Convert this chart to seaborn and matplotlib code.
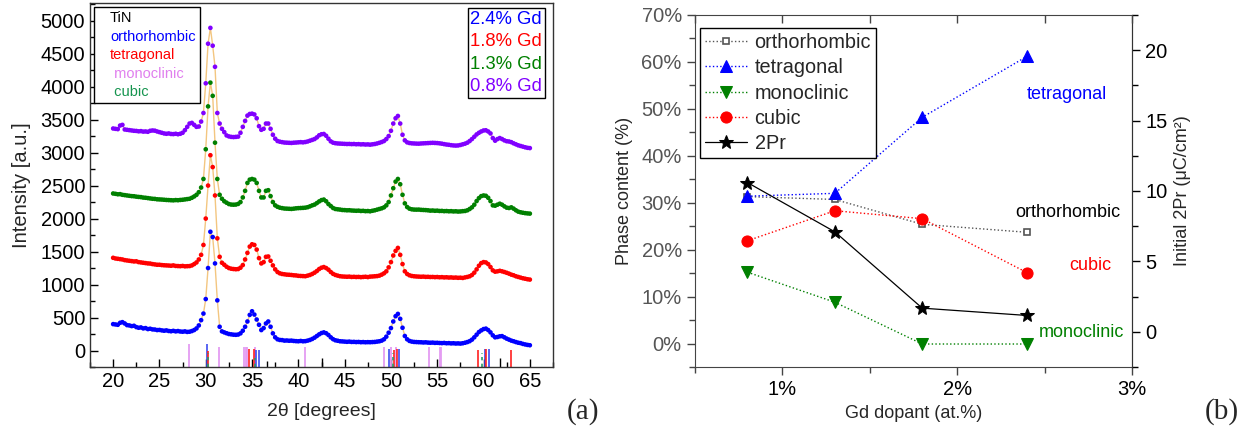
from matplotlib import pyplot as plt
from matplotlib.ticker import MultipleLocator, PercentFormatter
import pandas as pd
import seaborn as sns
import numpy as np

# ---------------- (a) XRD patterns ----------------
two_theta = np.arange(20, 65.001, 0.25)

xrd_24 = [400, 395, 390, 420, 430, 410, 385, 380, 370, 375, 355, 345, 350, 335, 340, 325, 330, 320, 318, 310,
          312, 305, 300, 305, 296, 292, 298, 290, 295, 288, 285, 290, 282, 285, 295, 310, 335, 380, 460, 560,
          780, 1250, 1800, 1720, 1320, 760, 360, 290, 275, 262, 250, 245, 240, 238, 242, 260, 300, 360, 440, 540,
          595, 545, 470, 390, 310, 340, 410, 440, 360, 260, 200, 170, 160, 158, 150, 152, 148, 150, 145, 142,
          140, 145, 140, 142, 150, 160, 175, 195, 220, 245, 265, 275, 262, 235, 200, 172, 155, 148, 140, 138,
          135, 132, 135, 130, 131, 128, 130, 126, 128, 125, 127, 126, 128, 130, 135, 140, 150, 170, 210, 270,
          340, 440, 520, 555, 480, 345, 220, 170, 145, 135, 130, 128, 126, 125, 122, 124, 120, 118, 120, 116,
          117, 114, 112, 115, 110, 112, 108, 110, 106, 108, 105, 110, 118, 128, 142, 165, 200, 240, 280, 305,
          325, 332, 310, 275, 230, 200, 205, 215, 218, 200, 180, 165, 150, 140, 128, 118, 112, 100, 92, 85,
          80]
xrd_18 = [1405, 1395, 1390, 1385, 1380, 1370, 1365, 1360, 1355, 1350, 1352, 1340, 1335, 1330, 1325, 1320, 1318, 1310, 1305, 1300,
          1300, 1295, 1292, 1290, 1288, 1285, 1290, 1282, 1280, 1278, 1282, 1276, 1278, 1280, 1290, 1310, 1335, 1380, 1450, 1600,
          2000, 2500, 2960, 2780, 2350, 1700, 1420, 1330, 1300, 1270, 1250, 1240, 1235, 1232, 1235, 1255, 1295, 1380, 1480, 1575,
          1610, 1600, 1530, 1400, 1320, 1340, 1420, 1425, 1360, 1290, 1230, 1190, 1170, 1160, 1155, 1150, 1148, 1145, 1140, 1138,
          1132, 1130, 1128, 1126, 1135, 1145, 1160, 1180, 1205, 1235, 1255, 1265, 1250, 1225, 1190, 1162, 1145, 1135, 1126, 1122,
          1120, 1118, 1120, 1115, 1117, 1114, 1116, 1112, 1115, 1118, 1113, 1120, 1122, 1125, 1128, 1135, 1150, 1170, 1200, 1260,
          1340, 1440, 1510, 1555, 1450, 1310, 1200, 1160, 1140, 1130, 1125, 1122, 1120, 1118, 1120, 1116, 1117, 1114, 1115, 1112,
          1114, 1110, 1112, 1108, 1110, 1106, 1108, 1104, 1106, 1102, 1104, 1100, 1108, 1115, 1125, 1145, 1180, 1230, 1285, 1325,
          1340, 1335, 1310, 1265, 1215, 1195, 1200, 1208, 1200, 1190, 1178, 1165, 1150, 1140, 1125, 1115, 1105, 1095, 1088, 1080,
          1075]
xrd_13 = [2380, 2375, 2368, 2370, 2360, 2355, 2350, 2345, 2340, 2338, 2332, 2328, 2325, 2318, 2315, 2310, 2305, 2300, 2298, 2292,
          2290, 2288, 2285, 2282, 2280, 2278, 2276, 2280, 2278, 2282, 2285, 2290, 2295, 2300, 2315, 2335, 2360, 2400, 2470, 2600,
          3050, 3700, 4060, 3860, 3150, 2600, 2360, 2300, 2262, 2240, 2220, 2212, 2210, 2212, 2222, 2250, 2320, 2420, 2540, 2590,
          2600, 2590, 2540, 2420, 2320, 2320, 2420, 2430, 2340, 2250, 2200, 2178, 2165, 2158, 2152, 2150, 2148, 2146, 2150, 2155,
          2158, 2160, 2162, 2165, 2172, 2185, 2200, 2212, 2235, 2260, 2280, 2288, 2262, 2220, 2190, 2160, 2145, 2140, 2136, 2130,
          2128, 2125, 2126, 2122, 2120, 2118, 2120, 2115, 2117, 2112, 2114, 2110, 2118, 2125, 2135, 2145, 2155, 2170, 2200, 2250,
          2350, 2460, 2560, 2600, 2520, 2360, 2230, 2175, 2150, 2140, 2136, 2135, 2136, 2132, 2130, 2128, 2125, 2120, 2122, 2118,
          2120, 2115, 2116, 2112, 2114, 2110, 2112, 2108, 2110, 2106, 2108, 2112, 2115, 2125, 2145, 2170, 2210, 2265, 2310, 2340,
          2350, 2345, 2315, 2265, 2200, 2195, 2210, 2225, 2210, 2185, 2165, 2160, 2170, 2150, 2125, 2105, 2095, 2088, 2082, 2078,
          2075]
xrd_08 = [3365, 3360, 3355, 3410, 3420, 3350, 3345, 3340, 3335, 3330, 3328, 3322, 3325, 3318, 3320, 3315, 3330, 3335, 3332, 3320,
          3310, 3300, 3290, 3285, 3290, 3282, 3280, 3285, 3278, 3285, 3300, 3340, 3390, 3440, 3450, 3420, 3390, 3395, 3470, 3600,
          4050, 4650, 4890, 4620, 4300, 3600, 3440, 3360, 3310, 3260, 3245, 3238, 3235, 3238, 3242, 3300, 3390, 3480, 3560, 3585,
          3590, 3578, 3520, 3400, 3345, 3360, 3440, 3440, 3360, 3270, 3210, 3175, 3165, 3158, 3152, 3150, 3148, 3146, 3150, 3152,
          3155, 3158, 3155, 3160, 3168, 3180, 3192, 3205, 3230, 3262, 3278, 3282, 3255, 3210, 3170, 3150, 3142, 3138, 3136, 3134,
          3132, 3130, 3131, 3128, 3130, 3126, 3128, 3124, 3126, 3122, 3124, 3120, 3125, 3130, 3138, 3148, 3160, 3175, 3205, 3250,
          3330, 3440, 3520, 3555, 3440, 3270, 3185, 3155, 3145, 3140, 3138, 3136, 3135, 3138, 3140, 3142, 3144, 3146, 3148, 3146,
          3144, 3140, 3135, 3128, 3122, 3118, 3112, 3108, 3106, 3108, 3115, 3125, 3135, 3150, 3175, 3205, 3240, 3275, 3300, 3320,
          3335, 3338, 3320, 3290, 3220, 3180, 3205, 3220, 3205, 3185, 3172, 3168, 3158, 3140, 3125, 3110, 3100, 3090, 3080, 3072,
          3068]

samples = ['2.4% Gd', '1.8% Gd', '1.3% Gd', '0.8% Gd']
sample_colors = ['#0000ff', '#ff0000', '#008000', '#8000ff']

# reference sticks (2theta, top of stick in a.u.)
tin_pos = [36.66, 42.6, 61.8]
tin_top = [-160, -110, -120]
ortho_pos = [30.18, 35.45, 35.7, 49.8, 50.85, 60.15, 60.6]
ortho_top = [100, 10, 10, 20, 20, 20, 20]
tetra_pos = [30.28, 34.7, 35.2, 50.3, 50.7, 59.35, 60.3, 62.95]
tetra_top = [0, 20, 20, 10, 20, 10, 20, 10]
mono_pos = [28.2, 31.45, 34.1, 34.3, 34.5, 35.3, 40.7, 49.25, 50.05, 50.5, 54.1, 55.3, 55.45]
mono_top = [100, 60, 50, 50, 50, 50, 50, 50, 50, 50, 50, 50, 50]
cubic_pos = [30.2, 35.3, 50.2, 59.8]
cubic_top = [-40, -120, -40, -40]
stick_bottom = -250

# ---------------- (b) phase content ----------------
dopant = [0.8, 1.3, 1.8, 2.4]
ortho = [31.3, 30.7, 25.4, 23.7]
tetra = [31.4, 32.0, 48.2, 61.2]
mono = [15.2, 8.8, -0.1, -0.1]
cubic = [21.9, 28.3, 26.6, 15.1]
pr2 = [10.6, 7.1, 1.68, 1.16]

sns.set_style("ticks")
plt.rcParams['font.family'] = ['Liberation Sans', 'DejaVu Sans']

fig = plt.figure(figsize=(12.5, 4.33), dpi=100)

# ---------- panel a ----------
ax = fig.add_axes([0.072, 0.1524, 0.3704, 0.8396])
df = pd.DataFrame({
    'two_theta': np.tile(two_theta, 4),
    'I': np.concatenate([xrd_24, xrd_18, xrd_13, xrd_08]),
    'sample': np.repeat(samples, len(two_theta)),
})
sns.lineplot(data=df, x='two_theta', y='I', units='sample', estimator=None,
             color='#f3c680', lw=1.0, ax=ax, zorder=1)
sns.scatterplot(data=df, x='two_theta', y='I', hue='sample', palette=sample_colors,
                s=11, linewidth=0, legend=False, ax=ax, zorder=2)

ax.vlines(mono_pos, stick_bottom, mono_top, color='#e49cf2', lw=1.3, zorder=1)
ax.vlines(ortho_pos, stick_bottom, ortho_top, color='#3d4cf0', lw=1.2, zorder=1)
ax.vlines(tetra_pos, stick_bottom, tetra_top, color='#ff2020', lw=1.2, zorder=1)
ax.vlines(cubic_pos, stick_bottom, cubic_top, color='#2a9d6a', lw=1.2, linestyle=(0, (2, 2)), zorder=1)
ax.vlines(tin_pos, stick_bottom, tin_top, color='black', lw=1.0, zorder=1)

ax.set_xlim(17.5, 67.5)
ax.set_ylim(-250, 5260)
ax.xaxis.set_major_locator(MultipleLocator(5))
ax.xaxis.set_minor_locator(MultipleLocator(2.5))
ax.yaxis.set_major_locator(MultipleLocator(500))
ax.yaxis.set_minor_locator(MultipleLocator(250))
ax.tick_params(which='both', direction='in', labelsize=14.5, colors='black', width=1.0)
ax.tick_params(which='major', length=6)
ax.tick_params(which='minor', length=3.5)
ax.set_xlabel('2θ [degrees]', fontsize=14, labelpad=9)
ax.set_ylabel('Intensity [a.u.]', fontsize=14.5, labelpad=7)
for sp in ax.spines.values():
    sp.set_color('#333333')
    sp.set_linewidth(1.0)

phase_names = ['TiN', 'orthorhombic', 'tetragonal', ' monoclinic', ' cubic']
phase_colors = ['#000000', '#0000ff', '#ff0000', '#e07fee', '#15944e']
h = [plt.Line2D([], [], lw=0) for _ in phase_names]
leg1 = ax.legend(h, phase_names, loc='upper left', bbox_to_anchor=(0.0086, 0.990), handlelength=0.8,
                 handletextpad=0, fontsize=10.5, frameon=True, fancybox=False, edgecolor='black',
                 framealpha=1, borderpad=0.3, labelspacing=0.3, borderaxespad=0)
for t, c in zip(leg1.get_texts(), phase_colors):
    t.set_color(c)
leg1.get_frame().set_linewidth(1.0)
ax.add_artist(leg1)

h2 = [plt.Line2D([], [], lw=0) for _ in samples]
leg2 = ax.legend(h2, samples, loc='upper right', bbox_to_anchor=(0.9827, 0.9876), handlelength=0,
                 handletextpad=0, fontsize=13.3, frameon=True, fancybox=False, edgecolor='black',
                 framealpha=1, borderpad=0.15, labelspacing=0.3, borderaxespad=0)
for t, c in zip(leg2.get_texts(), sample_colors):
    t.set_color(c)
leg2.get_frame().set_linewidth(1.0)

fig.text(0.4664, 0.049, '(a)', fontsize=21, family='Liberation Serif', ha='center', va='center')

# ---------- panel b ----------
bx = fig.add_axes([0.556, 0.1524, 0.3496, 0.8130])
sns.lineplot(x=dopant, y=ortho, ax=bx, color='#555555', lw=1.0, linestyle=':', marker='s',
             markersize=5, markerfacecolor='white', markeredgecolor='#555555', markeredgewidth=1.2,
             label='orthorhombic')
sns.lineplot(x=dopant, y=tetra, ax=bx, color='#0000ff', lw=1.0, linestyle=':', marker='^',
             markersize=8, markeredgecolor='#0000ff', label='tetragonal')
sns.lineplot(x=dopant, y=mono, ax=bx, color='#008000', lw=1.0, linestyle=':', marker='v',
             markersize=8, markeredgecolor='#008000', label='monoclinic')
sns.lineplot(x=dopant, y=cubic, ax=bx, color='#ff0000', lw=1.0, linestyle=':', marker='o',
             markersize=8, markeredgecolor='#ff0000', label='cubic')
bx.set_xlim(0.5, 3.0)
bx.set_ylim(-5, 70)
bx.xaxis.set_major_locator(MultipleLocator(1))
bx.xaxis.set_minor_locator(MultipleLocator(0.5))
bx.xaxis.set_major_formatter(PercentFormatter(decimals=0))
bx.yaxis.set_major_locator(MultipleLocator(10))
bx.yaxis.set_minor_locator(MultipleLocator(5))
bx.yaxis.set_major_formatter(PercentFormatter(decimals=0))
bx.tick_params(axis='y', which='both', direction='out', labelsize=14.5, labelcolor='#555555',
               color='#444444', width=1.0)
bx.tick_params(axis='x', which='both', direction='out', labelsize=14.5, labelcolor='black',
               color='#444444', width=1.0, top=False)
bx.tick_params(which='major', length=6)
bx.tick_params(which='minor', length=4)
bx.set_xlabel('Gd dopant (at.%)', fontsize=13, labelpad=4)
bx.set_ylabel('Phase content (%)', fontsize=13, labelpad=6)
for sp in bx.spines.values():
    sp.set_color('#444444')

bx2 = bx.twinx()
sns.lineplot(x=dopant, y=pr2, ax=bx2, color='black', lw=0.9, marker='*', markersize=10,
             markeredgecolor='black', label='2Pr')
bx2.set_ylim(-2.5, 22.5)
bx2.yaxis.set_major_locator(MultipleLocator(5))
bx2.yaxis.set_minor_locator(MultipleLocator(2.5))
bx2.tick_params(which='both', direction='out', labelsize=14.5, colors='black', width=1.0)
bx2.tick_params(which='major', length=6)
bx2.tick_params(which='minor', length=4)
bx2.set_ylabel('Initial 2Pr (μC/cm²)', fontsize=13, labelpad=5)
bx2.spines['right'].set_color('#333333')
for sp in ['left', 'top', 'bottom']:
    bx2.spines[sp].set_visible(False)

# top ticks pointing inwards
tx = bx.twiny()
tx.set_xlim(bx.get_xlim())
tx.xaxis.set_major_locator(MultipleLocator(0.5))
tx.tick_params(axis='x', direction='in', length=6, labeltop=False, color='#444444', width=1.0)
for sp in tx.spines.values():
    sp.set_visible(False)

hs, ls = bx.get_legend_handles_labels()
hp, lp = bx2.get_legend_handles_labels()
bx.get_legend().remove()
bx2.get_legend().remove()
leg3 = tx.legend(hs + hp, ls + lp, loc='upper left', bbox_to_anchor=(0.0114, 0.963), fontsize=14.3,
                 frameon=True, fancybox=False, edgecolor='black', framealpha=1, handlelength=2.1,
                 borderpad=0.25, labelspacing=0.32, handletextpad=0.4, borderaxespad=0)
leg3.get_frame().set_linewidth(1.0)

bx.text(2.63, 53.0, 'tetragonal', color='#0000ff', fontsize=13, ha='center', va='center')
bx.text(2.63, 28.0, 'orthorhombic', color='black', fontsize=13, ha='center', va='center')
bx.text(2.76, 16.7, 'cubic', color='#ff0000', fontsize=13, ha='center', va='center')
bx.text(2.71, 2.3, 'monoclinic', color='#008000', fontsize=13, ha='center', va='center')

fig.text(0.9776, 0.049, '(b)', fontsize=21, family='Liberation Serif', ha='center', va='center')

fig.savefig('out.png', dpi=100)
